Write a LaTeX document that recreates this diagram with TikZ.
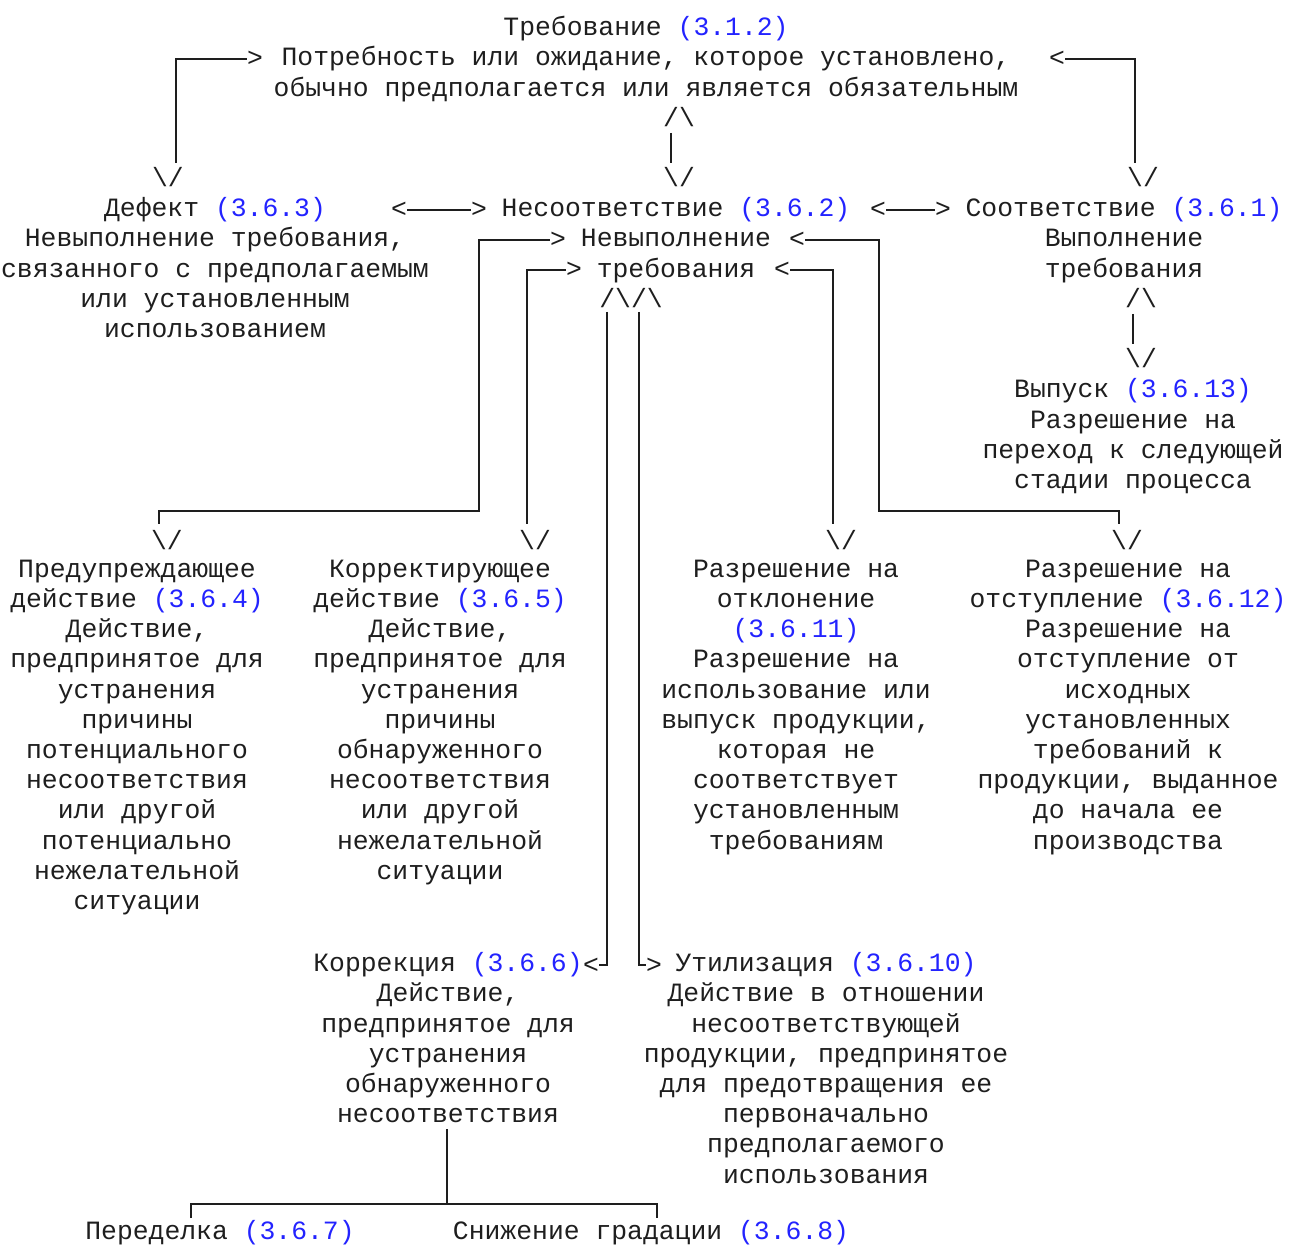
\documentclass[tikz,border=0pt]{standalone}
\usepackage{fontspec}
\newfontfamily\monofont{Liberation Mono}
\usetikzlibrary{calc}
\definecolor{clause_blue}{RGB}{35, 35, 255}
\definecolor{ink}{RGB}{30, 30, 30}
\def \cl#1{\textcolor{clause_blue}{#1}}

\begin{document}
\begin{tikzpicture}[
    x=0.5pt, y=-0.5pt,
    % Text styles
    term/.style={
        font=\fontsize{13.2}{15.1}\monofont,
        text=ink,
        align=center,
        inner sep=0pt,
        anchor=north,
        execute at begin node={\rule{0pt}{12pt}}
    },
    tip/.style={
        font=\fontsize{13.2}{15.1}\monofont,
        text=ink,
        inner sep=0pt,
        anchor=base
    },
    link/.style={
        draw=ink,
        line width=1pt
    }
]
\useasboundingbox (0,0) rectangle (1290,1246);

% Terms
\node[term] (req) at (646,16) {Требование \cl{(3.1.2)}\\Потребность или ожидание, которое установлено,\\обычно предполагается или является обязательным};
\node[term] (def) at (215,197.2) {Дефект \cl{(3.6.3)}\\Невыполнение требования,\\связанного с предполагаемым\\или установленным\\использованием};
\node[term] (nc) at (676,197.2) {Несоответствие \cl{(3.6.2)}\\Невыполнение\\требования};
\node[term] (conf) at (1124,197.2) {Соответствие \cl{(3.6.1)}\\Выполнение\\требования};
\node[term] (rel) at (1133,378.4) {Выпуск \cl{(3.6.13)}\\Разрешение на\\переход к следующей\\стадии процесса};
\node[term] (pa) at (137,559.6) {Предупреждающее\\действие \cl{(3.6.4)}\\Действие,\\предпринятое для\\устранения\\причины\\потенциального\\несоответствия\\или другой\\потенциально\\нежелательной\\ситуации};
\node[term] (ca) at (440,559.6) {Корректирующее\\действие \cl{(3.6.5)}\\Действие,\\предпринятое для\\устранения\\причины\\обнаруженного\\несоответствия\\или другой\\нежелательной\\ситуации};
\node[term] (cd) at (796,559.6) {Разрешение на\\отклонение\\\cl{(3.6.11)}\\Разрешение на\\использование или\\выпуск продукции,\\которая не\\соответствует\\установленным\\требованиям};
\node[term] (dp) at (1128,559.6) {Разрешение на\\отступление \cl{(3.6.12)}\\Разрешение на\\отступление от\\исходных\\установленных\\требований к\\продукции, выданное\\до начала ее\\производства};
\node[term] (cor) at (448,952.2) {Коррекция \cl{(3.6.6)}\\Действие,\\предпринятое для\\устранения\\обнаруженного\\несоответствия};
\node[term] (scr) at (826,952.2) {Утилизация \cl{(3.6.10)}\\Действие в отношении\\несоответствующей\\продукции, предпринятое\\для предотвращения ее\\первоначально\\предполагаемого\\использования};
\node[term] (rw) at (220,1215) {Переделка \cl{(3.6.7)}};
\node[term] (rg) at (651,1215) {Снижение градации \cl{(3.6.8)}};

% Arrow tips
\node[tip] (req_in_l) at (255,66.5) {>};
\node[tip] (req_in_r) at (1057,66.5) {<};
\node[tip] (req_up) at (679,126.1) {/\textbackslash};
\node[tip] (nc_dn) at (679,186.5) {\textbackslash/};
\node[tip] (def_dn) at (168,186.5) {\textbackslash/};
\node[tip] (conf_dn) at (1143,186.5) {\textbackslash/};
\node[tip] (def_r) at (399,217.5) {<};
\node[tip] (nc_l) at (479,217.5) {>};
\node[tip] (nc_r) at (878,217.5) {<};
\node[tip] (conf_l) at (943,217.5) {>};
\node[tip] (nc_in_a) at (558,247.5) {>};
\node[tip] (nc_in_d) at (797,247.5) {<};
\node[tip] (nc_in_b) at (574,277.5) {>};
\node[tip] (nc_in_c) at (782,277.5) {<};
\node[tip] (nc_up) at (631,307.3) {/\textbackslash/\textbackslash};
\node[tip] (conf_up) at (1141,307.3) {/\textbackslash};
\node[tip] (rel_dn) at (1141,367.7) {\textbackslash/};
\node[tip] (pa_dn) at (167,549.5) {\textbackslash/};
\node[tip] (ca_dn) at (535,549.5) {\textbackslash/};
\node[tip] (cd_dn) at (841,549.5) {\textbackslash/};
\node[tip] (dp_dn) at (1127,549.5) {\textbackslash/};
\node[tip] (cor_in) at (591,973) {<};
\node[tip] (scr_in) at (654,973) {>};

\coordinate (l_turn) at (479,511);
\coordinate (r_turn) at (879,511);
\coordinate (cor_split) at (447,1204);
\coordinate (rw_end) at (191,1218);
\coordinate (rg_end) at (657,1218);

% Connectors
\draw[link, shorten >=2pt] (req_in_l.west) -| ($(def_dn.north)!.5!(def_dn.north east)$);
\draw[link, shorten >=2pt] (req_in_r.east) -| ($(conf_dn.north west)!.5!(conf_dn.north)$);
\draw[link, shorten <=3pt, shorten >=2pt] ($(req_up.south west)!.5!(req_up.south)$) -- ($(nc_dn.north west)!.5!(nc_dn.north)$);

\draw[link] (def_r.east) -- (nc_l.west);
\draw[link] (nc_r.east) -- (conf_l.west);

\draw[link, shorten >=3pt] (nc_in_a.west) -| (l_turn) -| ($(pa_dn.north west)!.5!(pa_dn.north)$);
\draw[link, shorten >=3pt] (nc_in_b.west) -| ($(ca_dn.north west)!.5!(ca_dn.north)$);
\draw[link, shorten >=3pt] (nc_in_c.east) -| ($(cd_dn.north west)!.5!(cd_dn.north)$);
\draw[link, shorten >=3pt] (nc_in_d.east) -| (r_turn) -| ($(dp_dn.north west)!.5!(dp_dn.north)$);

\draw[link, shorten <=3pt, shorten >=2pt] ($(conf_up.south west)!.5!(conf_up.south)$) -- ($(rel_dn.north west)!.5!(rel_dn.north)$);

\draw[link, shorten <=2pt] ($(nc_up.south west)!.125!(nc_up.south east)$) |- (cor_in.east);
\draw[link, shorten <=2pt] ($(nc_up.south west)!.625!(nc_up.south east)$) |- (scr_in.west);

\draw[link, shorten <=3pt] (cor.south -| cor_split) -- (cor_split);
\draw[link] (rw_end) |- (cor_split) -| (rg_end);

\end{tikzpicture}
\end{document}
